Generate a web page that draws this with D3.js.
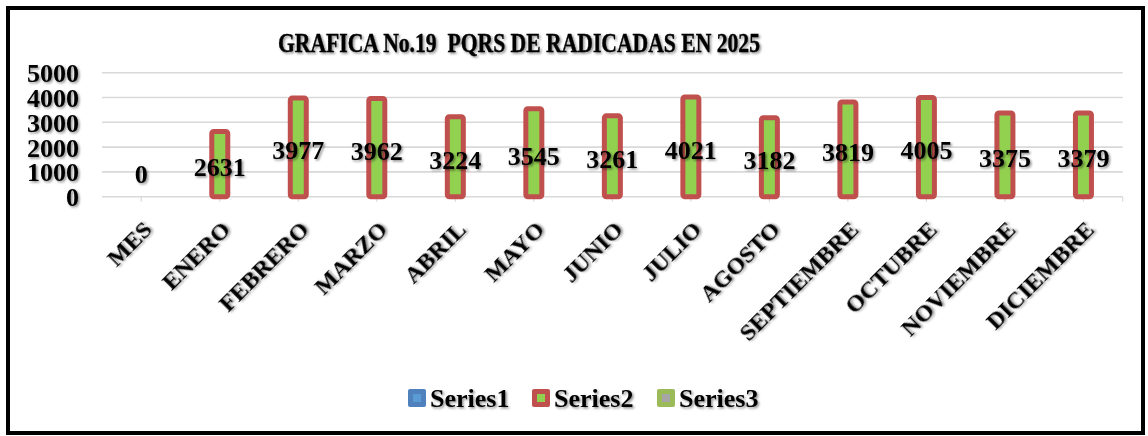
<!DOCTYPE html>
<html>
<head>
<meta charset="utf-8">
<script src="https://cdn.jsdelivr.net/npm/d3@7"></script>
<style>
  body { margin: 0; background: #fff; }
  svg text { font-family: "Liberation Serif", "DejaVu Serif", serif; font-weight: bold; }
</style>
</head>
<body>
<div class="chart"></div>
<script>
// data
const categories = ["MES", "ENERO", "FEBRERO", "MARZO", "ABRIL", "MAYO", "JUNIO",
	"JULIO", "AGOSTO", "SEPTIEMBRE", "OCTUBRE", "NOVIEMBRE", "DICIEMBRE"];
const radicadas = [0, 2631, 3977, 3962, 3224, 3545, 3261, 4021, 3182, 3819, 4005, 3375, 3379];
const yTicks = [0, 1000, 2000, 3000, 4000, 5000];
const seriesNames = ["Series1", "Series2", "Series3"];
const title = "GRAFICA No.19  PQRS DE RADICADAS EN 2025";

const W = 1148, H = 436;
const plot = { left: 102, right: 1122.7, top: 72.7, bottom: 196.7 };

const svg = d3.select(".chart")
	.append("svg")
	.attr("width", W)
	.attr("height", H);

// soft text shadow like the office chart
const defs = svg.append("defs");
defs.append("filter")
	.attr("id", "shadow")
	.attr("x", "-20%").attr("y", "-20%")
	.attr("width", "140%").attr("height", "140%")
	.append("feDropShadow")
	.attr("dx", 1.5).attr("dy", 1.5)
	.attr("stdDeviation", 1)
	.attr("flood-color", "#000")
	.attr("flood-opacity", 0.45);

svg.append("rect")
	.attr("x", 8).attr("y", 8)
	.attr("width", 1135).attr("height", 425)
	.attr("fill", "#fff")
	.attr("stroke", "#000")
	.attr("stroke-width", 4);

svg.append("text")
	.attr("x", 519).attr("y", 52)
	.attr("text-anchor", "middle")
	.attr("font-size", 28)
	.attr("textLength", 482)
	.attr("lengthAdjust", "spacingAndGlyphs")
	.style("white-space", "pre")
	.attr("stroke", "#000")
	.attr("stroke-width", 0.4)
	.attr("filter", "url(#shadow)")
	.text(title);

const xScale = d3.scaleBand()
	.domain(categories)
	.range([plot.left, plot.right])
	.padding(0);

const yScale = d3.scaleLinear()
	.domain([0, 5000])
	.range([plot.bottom, plot.top]);

// gridlines
svg.append("g")
	.selectAll("line")
	.data(yTicks)
	.join("line")
	.attr("x1", plot.left)
	.attr("x2", plot.right)
	.attr("y1", (d) => yScale(d))
	.attr("y2", (d) => yScale(d))
	.attr("stroke", "#d9d9d9")
	.attr("stroke-width", 1.6);

// y axis labels
svg.append("g")
	.selectAll("text")
	.data(yTicks)
	.join("text")
	.attr("x", 79)
	.attr("y", (d) => yScale(d) + 9.5)
	.attr("text-anchor", "end")
	.attr("font-size", 26)
	.attr("filter", "url(#shadow)")
	.text((d) => d);

// category tick marks
const tickX = categories.map((c) => xScale(c) + xScale.bandwidth() / 2).concat([plot.right]);
svg.append("g")
	.selectAll("line")
	.data(tickX)
	.join("line")
	.attr("x1", (d) => d)
	.attr("x2", (d) => d)
	.attr("y1", plot.bottom)
	.attr("y2", plot.bottom + 5)
	.attr("stroke", "#d9d9d9")
	.attr("stroke-width", 1.2);

// bars
const barW = 16;
svg.append("g")
	.selectAll("rect")
	.data(categories.map((c, i) => ({ cat: c, value: radicadas[i] })).filter((d) => d.value > 0))
	.join("rect")
	.attr("x", (d) => xScale(d.cat) + xScale.bandwidth() / 2 - barW / 2)
	.attr("y", (d) => yScale(d.value))
	.attr("width", barW)
	.attr("height", (d) => yScale(0) - yScale(d.value))
	.attr("rx", 2)
	.attr("fill", "#92d050")
	.attr("stroke", "#c0504d")
	.attr("stroke-width", 5);

// value labels, centred near half the bar height
svg.append("g")
	.selectAll("text")
	.data(categories.map((c, i) => ({ cat: c, value: radicadas[i] })))
	.join("text")
	.attr("x", (d) => xScale(d.cat) + xScale.bandwidth() / 2)
	.attr("y", (d) => Math.min(yScale(d.value / 2) + 3, 174) + 9)
	.attr("text-anchor", "middle")
	.attr("font-size", 26)
	.attr("filter", "url(#shadow)")
	.text((d) => d.value);

// rotated category labels
svg.append("g")
	.selectAll("text")
	.data(categories)
	.join("text")
	.attr("transform", (d) => `translate(${xScale(d) + xScale.bandwidth() / 2 + 12},${231}) rotate(-45)`)
	.attr("text-anchor", "end")
	.attr("font-size", 24)
	.attr("filter", "url(#shadow)")
	.text((d) => d);

// legend
const legendColors = [
	{ outer: "#4f81bd", inner: "#5b9bd5" },
	{ outer: "#c0504d", inner: "#92d050" },
	{ outer: "#9bbb59", inner: "#a5a5a5" },
];
const legendX = [408, 532, 657];
const legend = svg.append("g")
	.selectAll("g")
	.data(seriesNames)
	.join("g")
	.attr("transform", (d, i) => `translate(${legendX[i]},${389})`);

legend.append("rect")
	.attr("width", 18).attr("height", 18)
	.attr("rx", 2)
	.attr("fill", (d, i) => legendColors[i].outer);

legend.append("rect")
	.attr("x", 5).attr("y", 5)
	.attr("width", 8).attr("height", 8)
	.attr("fill", (d, i) => legendColors[i].inner);

legend.append("text")
	.attr("x", 22)
	.attr("y", 18)
	.attr("font-size", 26)
	.attr("filter", "url(#shadow)")
	.text((d) => d);
</script>
</body>
</html>
